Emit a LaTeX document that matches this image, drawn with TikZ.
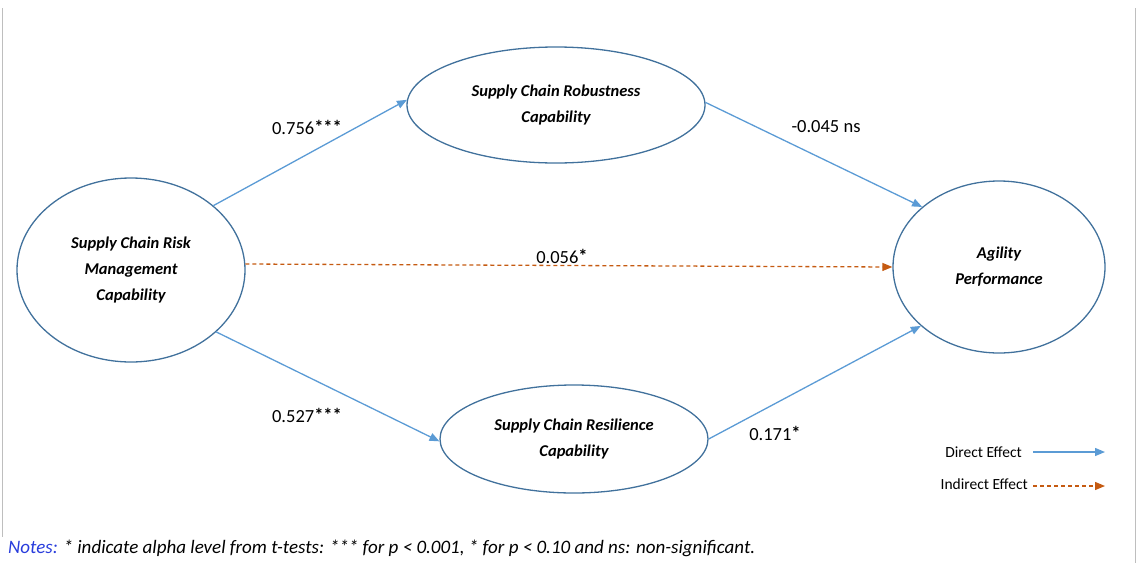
\documentclass[tikz,border=0pt]{standalone}
\usepackage{fontspec}
\setmainfont{Carlito}
\usetikzlibrary{shapes.geometric,arrows.meta}
\definecolor{ellc}{RGB}{65,113,156}
\definecolor{arrb}{RGB}{91,155,213}
\definecolor{arro}{RGB}{197,90,17}
\definecolor{noteb}{RGB}{40,60,220}
\definecolor{framec}{RGB}{190,190,190}
\newcommand{\stars}[1]{\raisebox{1pt}{\bfseries #1}}
\begin{document}
\begin{tikzpicture}[x=1pt,y=-1pt,
  construct/.style={ellipse,draw=ellc,line width=1.3pt,inner sep=0pt,
    font=\fontsize{16.5}{26}\selectfont\bfseries\itshape,align=center},
  direct/.style={draw=arrb,line width=1.3pt,-{Triangle[length=10pt,width=8pt]}},
  indirect/.style={draw=arro,line width=1.3pt,dash pattern=on 4pt off 3pt,-{Triangle[length=10pt,width=8pt]}},
  lbl/.style={font=\fontsize{18.5}{20}\selectfont,inner sep=0pt},
  legend/.style={font=\fontsize{15.5}{18}\selectfont,inner sep=0pt},
  frame/.style={draw=framec,line width=0.8pt}]
\useasboundingbox (0,0) rectangle (1138,563);
\coordinate (fl1) at (2.5,8); \coordinate (fl2) at (2.5,537);
\coordinate (fr1) at (1135,8); \coordinate (fr2) at (1135,563);
\draw[frame] (fl1) -- (fl2);
\draw[frame] (fr1) -- (fr2);

\node[construct,minimum width=228pt,minimum height=184pt] (risk) at (131,270) {Supply Chain Risk\\Management\\Capability};
\node[construct,minimum width=298pt,minimum height=116pt] (rob) at (556,105) {Supply Chain Robustness\\Capability};
\node[construct,minimum width=268pt,minimum height=108pt] (res) at (574,439) {Supply Chain Resilience\\Capability};
\node[construct,minimum width=212pt,minimum height=172pt] (agi) at (999,267) {Agility\\Performance};

\draw[direct] (risk.38) -- (rob.178);
\draw[direct] (rob.1) -- (agi.142);
\draw[indirect] (risk.3) -- (agi.180);
\draw[direct] (risk.-36) -- (res.181);
\draw[direct] (res.0) -- (agi.217);

\node[lbl] (l1) at (307,127) {0.756\stars{***}};
\node[lbl] (l2) at (826,127) {-0.045 ns};
\node[lbl] (l3) at (562,256) {0.056\stars{*}};
\node[lbl] (l4) at (307,415) {0.527\stars{***}};
\node[lbl] (l5) at (775,433) {0.171\stars{*}};

\node[legend,anchor=east] (lg1) at (1022,452) {Direct Effect};
\coordinate (la1) at (1033,452); \coordinate (lb1) at (1105,452);
\draw[direct] (la1) -- (lb1);
\node[legend,anchor=east] (lg2) at (1028,484) {Indirect Effect};
\coordinate (la2) at (1033,486); \coordinate (lb2) at (1105,486);
\draw[indirect] (la2) -- (lb2);

\node[anchor=west,inner sep=0pt,font=\fontsize{19}{22}\selectfont\itshape] (notes) at (8,548)
  {\textcolor{noteb}{Notes:} * indicate alpha level from t-tests: *** for p < 0.001, * for p < 0.10 and ns: non-significant.};
\end{tikzpicture}
\end{document}
